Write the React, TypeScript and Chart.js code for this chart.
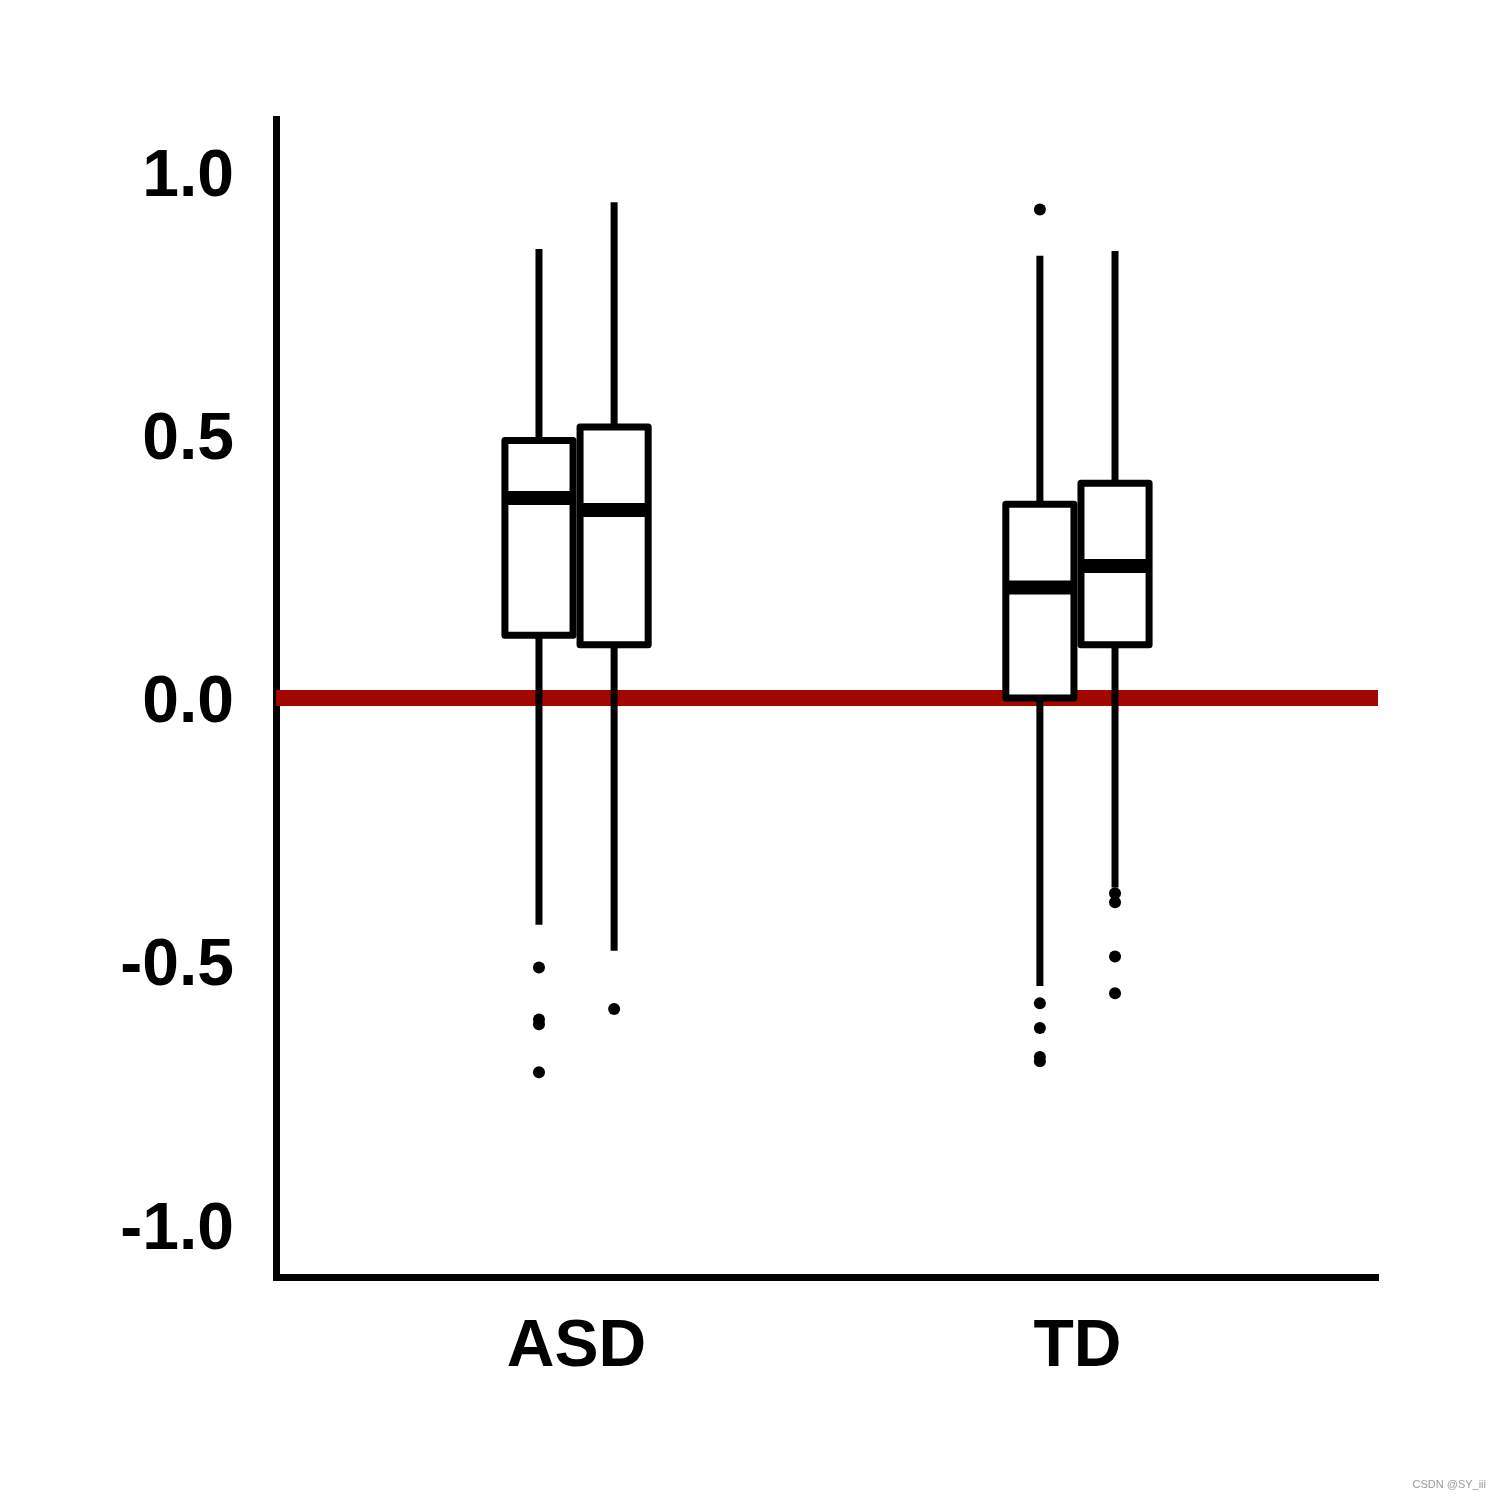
import React, { useEffect, useRef } from "react";
import { Chart, registerables } from "chart.js";

Chart.register(...registerables);

// ---- Data ----
const categories = ["ASD", "TD"];
const yTickValues = [-1.0, -0.5, 0.0, 0.5, 1.0];
const referenceValue = 0;

// first box of each group
const lowerWhiskerA = [-0.431, -0.547];
const q1A = [0.119, 0.0];
const medianA = [0.38, 0.21];
const q3A = [0.489, 0.368];
const upperWhiskerA = [0.853, 0.84];
const outliersA = [
  [-0.512, -0.611, -0.62, -0.711],
  [0.928, -0.58, -0.627, -0.682, -0.69],
];

// second box of each group
const lowerWhiskerB = [-0.48, -0.36];
const q1B = [0.101, 0.101];
const medianB = [0.357, 0.251];
const q3B = [0.515, 0.408];
const upperWhiskerB = [0.942, 0.849];
const outliersB = [[-0.591], [-0.371, -0.388, -0.491, -0.561]];

// ---- Layout / style constants ----
const DODGE = 0.075;
const BOX_WIDTH = 0.136;
const LINE_W = 7;
const MEDIAN_W = 14;
const RED = "#a30800";
const FONT = "'Liberation Sans', Arial, sans-serif";

type BoxSeries = {
  lo: number[];
  q1: number[];
  med: number[];
  q3: number[];
  hi: number[];
  offset: number;
};

const boxSeries: BoxSeries[] = [
  { lo: lowerWhiskerA, q1: q1A, med: medianA, q3: q3A, hi: upperWhiskerA, offset: -DODGE },
  { lo: lowerWhiskerB, q1: q1B, med: medianB, q3: q3B, hi: upperWhiskerB, offset: DODGE },
];

const boxPlugin = {
  id: "boxPlugin",
  beforeDatasetsDraw(chart: any) {
    const { ctx, chartArea, scales } = chart;
    const xs = scales.x;
    const ys = scales.y;
    ctx.save();
    // reference line
    ctx.strokeStyle = RED;
    ctx.lineWidth = 16;
    ctx.lineCap = "butt";
    const y0 = ys.getPixelForValue(referenceValue);
    ctx.beginPath();
    ctx.moveTo(chartArea.left, y0);
    ctx.lineTo(chartArea.right, y0);
    ctx.stroke();

    ctx.strokeStyle = "#000";
    ctx.lineJoin = "round";
    boxSeries.forEach((s) => {
      categories.forEach((_, i) => {
        const cx = xs.getPixelForValue(i + 1 + s.offset);
        const left = xs.getPixelForValue(i + 1 + s.offset - BOX_WIDTH / 2);
        const right = xs.getPixelForValue(i + 1 + s.offset + BOX_WIDTH / 2);
        const pLo = ys.getPixelForValue(s.lo[i]);
        const pQ1 = ys.getPixelForValue(s.q1[i]);
        const pMed = ys.getPixelForValue(s.med[i]);
        const pQ3 = ys.getPixelForValue(s.q3[i]);
        const pHi = ys.getPixelForValue(s.hi[i]);
        // whiskers
        ctx.lineWidth = LINE_W;
        ctx.lineCap = "butt";
        ctx.beginPath();
        ctx.moveTo(cx, pHi);
        ctx.lineTo(cx, pQ3);
        ctx.moveTo(cx, pQ1);
        ctx.lineTo(cx, pLo);
        ctx.stroke();
        // box
        ctx.fillStyle = "#fff";
        ctx.beginPath();
        ctx.rect(left, pQ3, right - left, pQ1 - pQ3);
        ctx.fill();
        ctx.stroke();
        // median
        ctx.lineWidth = MEDIAN_W;
        ctx.beginPath();
        ctx.moveTo(left, pMed);
        ctx.lineTo(right, pMed);
        ctx.stroke();
      });
    });
    ctx.restore();
  },
  afterDraw(chart: any) {
    const { ctx } = chart;
    ctx.save();
    ctx.fillStyle = "#9a9a9a";
    ctx.font = `11px ${FONT}`;
    ctx.textAlign = "right";
    ctx.textBaseline = "alphabetic";
    ctx.fillText("CSDN @SY_iii", 1486, 1488);
    ctx.restore();
  },
};

function outlierPoints(series: number[][], offset: number) {
  const pts: { x: number; y: number }[] = [];
  series.forEach((vals, i) => {
    vals.forEach((v) => pts.push({ x: i + 1 + offset, y: v }));
  });
  return pts;
}

export default function App() {
  const canvasRef = useRef<HTMLCanvasElement | null>(null);

  useEffect(() => {
    if (!canvasRef.current) return;
    const chart = new Chart(canvasRef.current, {
      type: "scatter",
      data: {
        datasets: [
          {
            data: outlierPoints(outliersA, -DODGE),
            backgroundColor: "#000",
            borderWidth: 0,
            pointRadius: 6,
          },
          {
            data: outlierPoints(outliersB, DODGE),
            backgroundColor: "#000",
            borderWidth: 0,
            pointRadius: 6,
          },
        ],
      },
      options: {
        animation: false,
        responsive: false,
        events: [],
        layout: { padding: { top: 119, right: 122, left: 0, bottom: 0 } },
        plugins: { legend: { display: false }, tooltip: { enabled: false } },
        scales: {
          x: {
            type: "linear",
            min: 0.4,
            max: 2.6,
            grid: { display: false, drawTicks: false },
            border: { display: true, color: "#000", width: 7 },
            afterBuildTicks: (scale: any) => {
              scale.ticks = categories.map((_, i) => ({ value: i + 1 }));
            },
            afterFit: (scale: any) => {
              scale.height = 223;
            },
            ticks: {
              padding: 31,
              color: "#000",
              font: { family: FONT, size: 66, weight: "bold" },
              maxRotation: 0,
              autoSkip: false,
              callback: (v: any) => categories[Math.round(Number(v)) - 1] ?? "",
            },
          },
          y: {
            type: "linear",
            min: -1.1,
            max: 1.1,
            grid: { display: false, drawTicks: false },
            border: { display: true, color: "#000", width: 7 },
            afterBuildTicks: (scale: any) => {
              scale.ticks = yTickValues.map((v) => ({ value: v }));
            },
            afterFit: (scale: any) => {
              scale.width = 276;
            },
            ticks: {
              padding: 42,
              labelOffset: 6,
              color: "#000",
              font: { family: FONT, size: 66, weight: "bold" },
              autoSkip: false,
              callback: (v: any) => Number(v).toFixed(1),
            },
          },
        },
      },
      plugins: [boxPlugin],
    } as any);
    return () => chart.destroy();
  }, []);

  return (
    <div style={{ position: "absolute", left: 0, top: 0, width: 1500, height: 1500, background: "#fff" }}>
      <canvas ref={canvasRef} width={1500} height={1500} style={{ display: "block" }} />
    </div>
  );
}
